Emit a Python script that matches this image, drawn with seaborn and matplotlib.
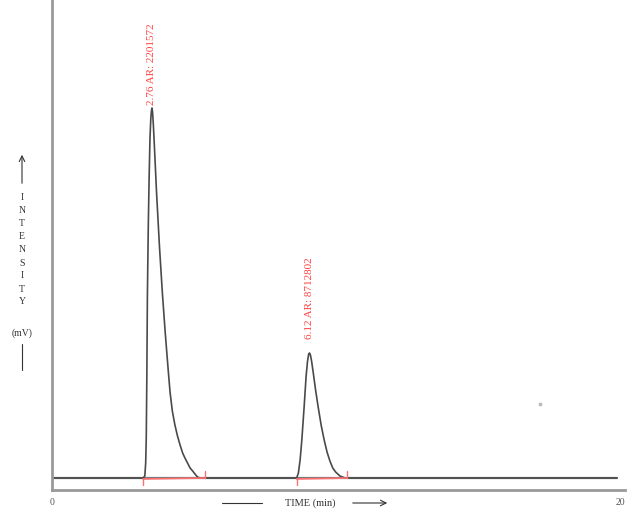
import matplotlib
matplotlib.use("Agg")
import matplotlib.pyplot as plt
import numpy as np
import pandas as pd
import seaborn as sns

# chromatogram trace (time in min, signal in mV)
time_min = [0.0, 3.18, 3.24, 3.27, 3.29, 3.31, 3.33, 3.36, 3.39, 3.42, 3.45,
            3.47, 3.49, 3.51, 3.54, 3.58, 3.65, 3.75, 3.85, 3.95, 4.05,
            4.12, 4.20, 4.29, 4.38, 4.47, 4.56, 4.64, 4.73, 4.82, 4.91,
            4.99, 5.08, 5.17,
            8.54, 8.60, 8.66, 8.72, 8.80, 8.87, 8.92, 8.96, 8.99, 9.02,
            9.06, 9.12, 9.20, 9.29, 9.40, 9.50, 9.60, 9.70, 9.80, 9.90,
            10.05, 10.23, 19.72]
signal_mv = [0, 0, 2, 15, 40, 100, 183, 250, 300, 340, 360,
             367, 370, 366, 352, 328, 285, 232, 186, 146, 110,
             86, 67, 53, 42, 33, 25, 20, 15, 10, 7,
             4, 1, 0,
             0, 5, 18, 38, 71, 102, 117, 124, 125, 123,
             117, 105, 88, 71, 52, 38, 26, 17, 10, 6,
             2, 0, 0]

# peak annotations
peak_rt = [3.49, 8.98]
peak_height = [370, 125]
peak_gap = [3, 14]
peak_labels = ["2.76 AR: 2201572", "6.12 AR: 8712802"]

# integration baselines (start, end) in min
integ_start = [3.18, 8.54]
integ_end = [5.35, 10.30]

stray_x = [17.03]
stray_y = [74]

sns.set_style("white")
plt.rcParams["font.family"] = ["Liberation Serif", "DejaVu Serif"]

fig = plt.figure(figsize=(6.42, 5.19), dpi=100)
ax = fig.add_axes([52 / 642, 29 / 519, 573 / 642, 490 / 519])

df = pd.DataFrame({"time": time_min, "signal": signal_mv})
ax.plot([0, time_min[-1]], [0, 0], color="#7a7a7a", linewidth=1.6, zorder=1)
sns.lineplot(data=df, x="time", y="signal", sort=False, color="#4a4a4a",
             linewidth=1.2, ax=ax)

for s, e in zip(integ_start, integ_end):
    ax.plot([s, e], [-1, 0], color="#ff7070", linewidth=1.2)
    ax.plot([s, s], [-1, -7], color="#ff7070", linewidth=1)
    ax.plot([e, e], [0, 7], color="#ff7070", linewidth=1)

for rt, h, g, lab in zip(peak_rt, peak_height, peak_gap, peak_labels):
    ax.text(rt, h + g, lab, rotation=90, ha="center", va="bottom",
            color="#ff4040", fontsize=8)

ax.scatter(stray_x, stray_y, s=3, color="#bbbbbb")

ax.set_xlim(0, 20)
ax.set_ylim(-12, 478)
ax.set_xticks([0, 20])
ax.set_xticklabels(["0", "20"], fontsize=7, color="#555555")
ax.get_xticklabels()[1].set_ha("right")
ax.set_yticks([])
ax.tick_params(axis="x", length=0, pad=6)
ax.set_xlabel("")
ax.set_ylabel("")
for side in ["top", "right"]:
    ax.spines[side].set_visible(False)
for side in ["left", "bottom"]:
    ax.spines[side].set_color("#999999")
    ax.spines[side].set_linewidth(2)

# x axis caption with arrows
fig.text(310 / 642, 1 - 503 / 519, "TIME (min)", ha="center", va="center",
         fontsize=7.5, color="#333333")
fig.add_artist(plt.Line2D([222 / 642, 262 / 642], [1 - 503 / 519] * 2,
                          color="#333333", linewidth=0.8))
ax.annotate("", xy=(390 / 642, 1 - 503 / 519), xytext=(350 / 642, 1 - 503 / 519),
            xycoords="figure fraction",
            arrowprops=dict(arrowstyle="->", color="#333333", lw=0.8))

# y axis caption, letters stacked vertically
letters = list("INTENSITY")
for i, ch in enumerate(letters):
    fig.text(22 / 642, 1 - (198 + i * 13) / 519, ch, ha="center", va="center",
             fontsize=7, color="#333333")
fig.text(22 / 642, 1 - 333 / 519, "(mV)", ha="center", va="center",
         fontsize=7, color="#333333")
ax.annotate("", xy=(22 / 642, 1 - 152 / 519), xytext=(22 / 642, 1 - 186 / 519),
            xycoords="figure fraction",
            arrowprops=dict(arrowstyle="->", color="#333333", lw=0.8))
fig.add_artist(plt.Line2D([22 / 642] * 2, [1 - 344 / 519, 1 - 370 / 519],
                          color="#333333", linewidth=0.8))

fig.savefig("out.png", dpi=100)
